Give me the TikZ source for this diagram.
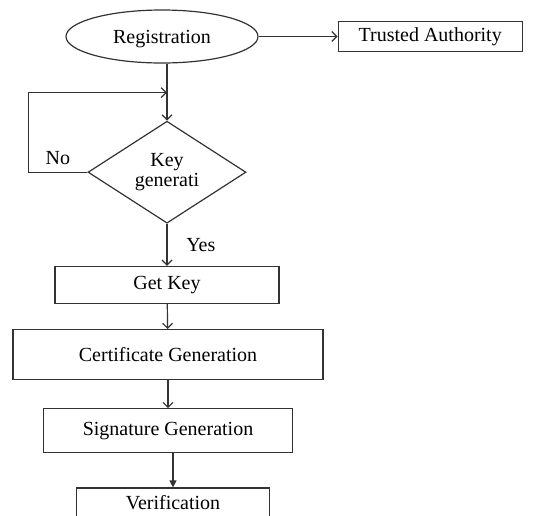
\documentclass[tikz,border=0pt]{standalone}
\usepackage{fontspec}
\setmainfont{Liberation Serif}
\usetikzlibrary{positioning, arrows.meta, shapes.geometric}

\begin{document}
\begin{tikzpicture}[
    % Define styles for the nodes and lines
    node distance=20pt,
    every node/.style={font=\fontsize{10}{12}\selectfont, text=black},
    box/.style={draw=black!80, rectangle, line width=0.6pt, align=center, inner sep=2pt},
    startnode/.style={draw=black!80, ellipse, line width=0.6pt, minimum width=96pt, minimum height=26.5pt, inner sep=0pt, text depth=0pt},
    decision/.style={draw=black!80, diamond, line width=0.6pt, align=center, aspect=1.55, minimum width=79pt, minimum height=51pt, inner sep=1pt, font=\fontsize{10}{10}\selectfont},
    arrow/.style={-{Straight Barb[length=2.5pt, width=5pt]}, line width=0.6pt, black!80},
    arrowlabel/.style={font=\fontsize{10}{12}\selectfont, right=6pt}
]
    \useasboundingbox (0,0) rectangle (270pt,-257.5pt);

    % Define the nodes
    \node[startnode] (reg) at (81pt,-18.25pt) {Registration};

    \node[box, minimum width=92pt, minimum height=15pt, right=39.5pt of reg] (ta) {Trusted Authority};

    \node[decision, below=28.5pt of reg, xshift=2.5pt] (key) {Key\\generati};

    \coordinate[above=14pt of key.north] (join);

    \node[box, minimum width=112pt, minimum height=18.5pt, below=21pt of key] (getkey) {Get Key};

    \node[box, minimum width=155pt, minimum height=25pt, below=12.5pt of getkey, xshift=0.5pt] (cert) {Certificate Generation};

    \node[box, minimum width=124.5pt, minimum height=22pt, below=14pt of cert] (sig) {Signature Generation};

    \node[box, minimum width=96.5pt, text height=7.5pt, text depth=20pt, inner ysep=3pt, below=17pt of sig, xshift=2.5pt] (verif) {Verification};

    % Draw the arrows and attach the labels
    \draw[arrow] (reg) -- (ta);

    \draw[arrow] (reg.south -| key) -- (key.north);

    \draw[arrow] (key.west) -- node[above] {No} ++(-29.5pt,0) |- (join);

    \draw[arrow] (key) -- node[arrowlabel] {Yes} (getkey);

    \draw[arrow] (getkey) -- (cert);

    \draw[arrow] (cert) -- (sig);

    \draw[arrow, -{Triangle[length=3.5pt, width=3.5pt]}] (verif.north |- sig.south) -- (verif.north);
\end{tikzpicture}
\end{document}
